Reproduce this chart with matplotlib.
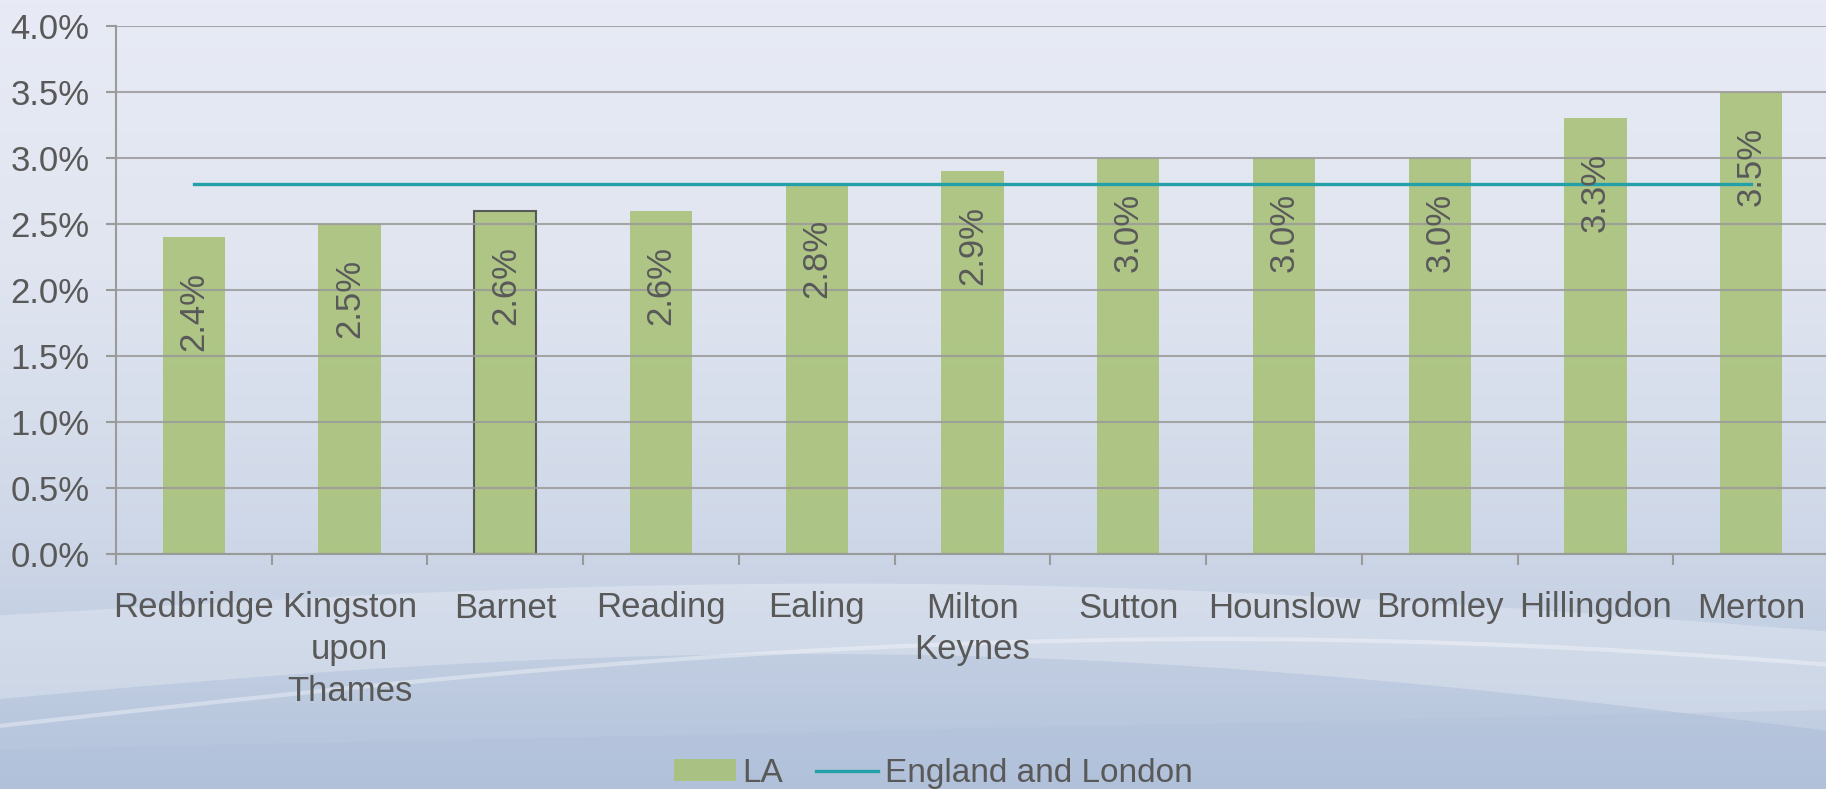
import numpy as np
import matplotlib
matplotlib.use('Agg')
import matplotlib.pyplot as plt
from matplotlib.ticker import PercentFormatter, FixedLocator

areas = ['Redbridge', 'Kingston\nupon\nThames', 'Barnet', 'Reading', 'Ealing',
         'Milton\nKeynes', 'Sutton', 'Hounslow', 'Bromley', 'Hillingdon', 'Merton']
la_rate = [2.4, 2.5, 2.6, 2.6, 2.8, 2.9, 3.0, 3.0, 3.0, 3.3, 3.5]
england_london = [2.8] * len(areas)
highlight = 'Barnet'

txt = '#595959'
plt.rcParams['font.family'] = ['Liberation Sans', 'DejaVu Sans']
plt.rcParams['font.size'] = 25

fig = plt.figure(figsize=(18.26, 7.89), dpi=100)

# background gradient with soft swooshes
bg = fig.add_axes([0, 0, 1, 1], zorder=-10)
bg.set_xlim(0, 1)
bg.set_ylim(0, 1)
bg.axis('off')
grad = np.linspace(0, 1, 256).reshape(-1, 1)
cmap = matplotlib.colors.LinearSegmentedColormap.from_list(
    'bg', ['#b3c3db', '#cfd8e8', '#e0e5f0', '#e8ebf5'])
bg.imshow(grad, extent=[0, 1, 0, 1], origin='lower', aspect='auto', cmap=cmap)
xs = np.linspace(0, 1, 200)
top_band = 0.22 + 0.05 * np.sin(np.pi * xs) - 0.02 * xs
low_band = 0.10 + 0.09 * np.sin(np.pi * (xs * 0.9 + 0.05)) - 0.04 * xs
bg.fill_between(xs, low_band, top_band, color='white', alpha=0.25, lw=0)
streak = 0.08 + 0.11 * np.sin(np.pi * xs * 0.75)
bg.plot(xs, streak, color='white', alpha=0.35, lw=3)
bg.fill_between(xs, 0, 0.05 + 0.05 * xs, color='#aebfd9', alpha=0.3, lw=0)

ax = fig.add_axes([116 / 1826, 235 / 789, 1713 / 1826, 528 / 789])
ax.patch.set_alpha(0)

x = np.arange(len(areas))
bars = ax.bar(x, la_rate, width=0.4, color='#a9c27a', alpha=0.9, zorder=2, label='LA')
for b, name in zip(bars, areas):
    if name == highlight:
        b.set_edgecolor('#4d4d4d')
        b.set_linewidth(1.5)

for xi, v in zip(x, la_rate):
    ax.annotate(f'{v:.1f}%', (xi, v), xytext=(0, -25), textcoords='offset points',
                rotation=90, ha='center', va='top', color=txt, fontsize=25, zorder=5)

line, = ax.plot(x, england_london, color='#26a0a8', lw=2.4, zorder=4,
                label='England and London')

ax.set_xlim(-0.5, len(areas) - 0.5)
ax.set_ylim(0, 4)
ax.yaxis.set_major_locator(FixedLocator(np.arange(0, 4.01, 0.5)))
ax.yaxis.set_major_formatter(PercentFormatter(100, decimals=1))
ax.yaxis.grid(True, color='#9a9a9a', lw=1.5, alpha=0.85, zorder=3)
ax.set_axisbelow(False)

ax.set_xticks(x)
ax.set_xticklabels(areas, color=txt, linespacing=1.33)
ax.set_xticks(np.arange(-0.5, len(areas), 1), minor=True)
ax.tick_params(axis='x', which='major', length=0, pad=27)
ax.tick_params(axis='x', which='minor', length=8, width=1.5, color='#9a9a9a', direction='out')
ax.tick_params(axis='y', length=7, width=1.5, color='#9a9a9a', pad=12, labelcolor=txt)

for s in ['top', 'right']:
    ax.spines[s].set_visible(False)
for s in ['left', 'bottom']:
    ax.spines[s].set_color('#9a9a9a')
    ax.spines[s].set_linewidth(1.5)

fig.legend([bars, line], ['LA', 'England and London'], loc='center',
           bbox_to_anchor=(0.511, 0.02), ncol=2, frameon=False,
           handlelength=1.85, handleheight=0.6, handletextpad=0.2, columnspacing=1.0,
           labelcolor=txt, fontsize=24)

fig.savefig('out.png', dpi=100)
